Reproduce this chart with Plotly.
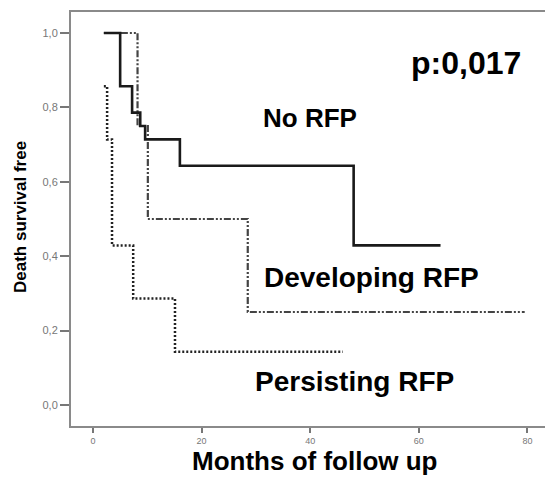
import plotly.graph_objects as go

# Data
no_rfp_t = [2, 5, 7.2, 8.7, 9.6, 16, 48, 64]
no_rfp_s = [1.0, 0.857, 0.786, 0.75, 0.714, 0.643, 0.429, 0.429]

dev_t = [2, 8.2, 10.1, 28.5, 79.5]
dev_s = [1.0, 0.75, 0.5, 0.25, 0.25]

pers_t = [2, 2.6, 3.5, 7.4, 15.1, 46]
pers_s = [0.857, 0.714, 0.429, 0.286, 0.143, 0.143]

x_ticks = [0, 20, 40, 60, 80]
y_ticks = [0, 0.2, 0.4, 0.6, 0.8, 1.0]
y_tick_labels = ["0,0", "0,2", "0,4", "0,6", "0,8", "1,0"]

fig = go.Figure()
fig.add_trace(go.Scatter(x=pers_t, y=pers_s, mode="lines", line_shape="hv",
                         line=dict(color="#222222", width=2.5, dash="2px,2px")))
fig.add_trace(go.Scatter(x=dev_t, y=dev_s, mode="lines", line_shape="hv",
                         line=dict(color="#444444", width=2.2, dash="7px,2px,2px,2px,2px,2px")))
fig.add_trace(go.Scatter(x=no_rfp_t, y=no_rfp_s, mode="lines", line_shape="hv",
                         line=dict(color="#1a1a1a", width=2.6)))

font = "Liberation Sans, Arial, sans-serif"
# positions in pixels (x, y of text centre)
ann = [
    dict(text="<b>p:0,017</b>", x=466, y=63, size=32, angle=0),
    dict(text="<b>No RFP</b>", x=310, y=118, size=26, angle=0),
    dict(text="<b>Developing RFP</b>", x=371, y=277, size=28, angle=0),
    dict(text="<b>Persisting RFP</b>", x=354, y=381, size=28, angle=0),
    dict(text="<b>Months of follow up</b>", x=315, y=461, size=26, angle=0),
    dict(text="<b>Death survival free</b>", x=20, y=217, size=17, angle=-90),
]
L, R, T, B = 71, 545, 12, 426
annotations = []
for a in ann:
    annotations.append(dict(text=a["text"], x=(a["x"] - L) / (R - L), y=(B - a["y"]) / (B - T),
                            xref="paper", yref="paper", showarrow=False, textangle=a["angle"],
                            xanchor="center", yanchor="middle",
                            font=dict(family=font, size=a["size"], color="black")))

fig.update_layout(
    width=545, height=478,
    margin=dict(l=L, r=545 - R, t=T, b=478 - B),
    paper_bgcolor="white", plot_bgcolor="white",
    showlegend=False,
    annotations=annotations,
)

x0 = 93; xs = 5.43
fig.update_xaxes(range=[(L - x0) / xs, (R - x0) / xs], tickvals=x_ticks,
                 showgrid=False, zeroline=False, showline=True, mirror=True,
                 linecolor="#8a8a8a", linewidth=2, ticks="outside", ticklen=5,
                 tickcolor="#777777", tickwidth=1.5,
                 tickfont=dict(family=font, size=9, color="#777777"))
fig.update_yaxes(range=[(405 - B) / 372, (405 - T) / 372], tickvals=y_ticks,
                 ticktext=y_tick_labels,
                 showgrid=False, zeroline=False, showline=True,
                 linecolor="#8a8a8a", linewidth=2, ticks="outside", ticklen=9,
                 tickcolor="#777777", tickwidth=1.5,
                 tickfont=dict(family=font, size=11, color="#777777"))

fig.write_html("out.html")
